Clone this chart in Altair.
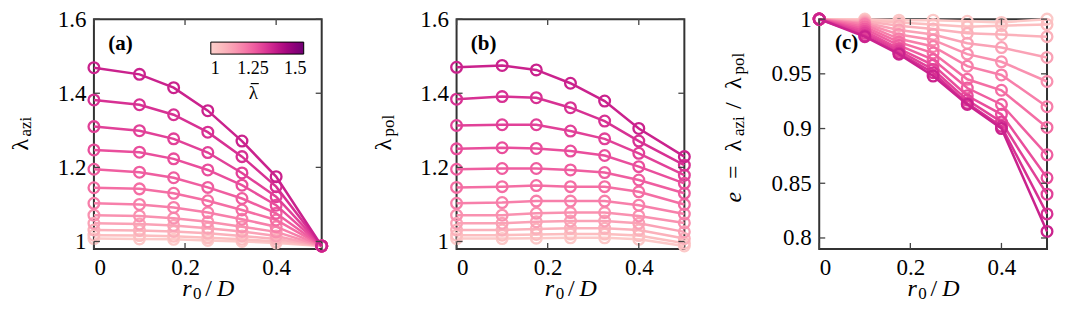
import altair as alt
import pandas as pd

# ---------------- data ----------------
x_vals = [0, 0.1, 0.175, 0.25, 0.325, 0.4, 0.5]

# colour value (lambda bar) of each series, lightest -> darkest
lam_bar = [1.02, 1.055, 1.09, 1.125, 1.16, 1.195, 1.225, 1.255, 1.285, 1.31, 1.34, 1.37]

lam_azi = [
    [1.008, 1.007, 1.006, 1.003, 1.000, 0.996, 0.988],
    [1.017, 1.016, 1.014, 1.010, 1.006, 1.000, 0.988],
    [1.031, 1.030, 1.027, 1.022, 1.015, 1.007, 0.988],
    [1.049, 1.047, 1.043, 1.036, 1.027, 1.015, 0.988],
    [1.071, 1.069, 1.063, 1.053, 1.040, 1.026, 0.988],
    [1.103, 1.100, 1.092, 1.078, 1.060, 1.040, 0.988],
    [1.145, 1.142, 1.130, 1.110, 1.085, 1.058, 0.988],
    [1.195, 1.187, 1.172, 1.146, 1.116, 1.076, 0.988],
    [1.247, 1.241, 1.223, 1.193, 1.152, 1.098, 0.988],
    [1.310, 1.299, 1.277, 1.240, 1.185, 1.121, 0.988],
    [1.382, 1.369, 1.342, 1.295, 1.229, 1.148, 0.988],
    [1.469, 1.451, 1.415, 1.353, 1.271, 1.175, 0.988],
]

lam_pol = [
    [1.008, 1.008, 1.009, 1.010, 1.010, 1.006, 0.988],
    [1.017, 1.017, 1.019, 1.020, 1.020, 1.016, 0.995],
    [1.031, 1.031, 1.034, 1.036, 1.036, 1.031, 1.008],
    [1.049, 1.049, 1.053, 1.055, 1.055, 1.049, 1.026],
    [1.071, 1.071, 1.076, 1.078, 1.078, 1.069, 1.050],
    [1.103, 1.105, 1.109, 1.109, 1.109, 1.098, 1.074],
    [1.146, 1.148, 1.151, 1.148, 1.148, 1.134, 1.100],
    [1.195, 1.197, 1.197, 1.193, 1.186, 1.166, 1.130],
    [1.250, 1.253, 1.251, 1.244, 1.232, 1.202, 1.157],
    [1.313, 1.315, 1.315, 1.298, 1.277, 1.238, 1.179],
    [1.384, 1.391, 1.388, 1.361, 1.325, 1.271, 1.206],
    [1.470, 1.475, 1.463, 1.427, 1.379, 1.305, 1.229],
]

e_ratio = [
    [1.000, 1.000, 0.999, 0.999, 0.998, 0.997, 1.000],
    [1.000, 0.999, 0.997, 0.995, 0.993, 0.994, 0.995],
    [1.000, 0.998, 0.994, 0.991, 0.987, 0.986, 0.984],
    [1.000, 0.997, 0.990, 0.986, 0.978, 0.974, 0.965],
    [1.000, 0.996, 0.986, 0.981, 0.968, 0.961, 0.943],
    [1.000, 0.995, 0.982, 0.975, 0.957, 0.949, 0.920],
    [1.000, 0.993, 0.979, 0.969, 0.945, 0.935, 0.901],
    [1.000, 0.991, 0.976, 0.963, 0.937, 0.922, 0.876],
    [1.000, 0.989, 0.973, 0.958, 0.930, 0.913, 0.855],
    [1.000, 0.987, 0.971, 0.954, 0.926, 0.906, 0.840],
    [1.000, 0.985, 0.969, 0.951, 0.923, 0.902, 0.822],
    [1.000, 0.984, 0.968, 0.948, 0.922, 0.900, 0.806],
]

y_ticks_ab = [1.0, 1.2, 1.4, 1.6]
y_ticks_c = [0.8, 0.85, 0.9, 0.95, 1.0]
x_ticks = [0, 0.2, 0.4]
cbar_ticks = [1, 1.25, 1.5]
cbar_domain = [1, 1.55]

# ---------------- styling ----------------
W, H = 228, 230
FONT = "Liberation Serif, Times New Roman, serif"
TICK = 6
MAIN, SUB = 24, 17
CX = W / 2


def long_table(series):
    rows = []
    for k, ys in enumerate(series):
        for x, y in zip(x_vals, ys):
            rows.append({"k": k, "lam": lam_bar[k], "x": x, "y": y})
    return pd.DataFrame(rows)


def text(t, x, y, size, angle=0, style="normal", weight="normal"):
    return alt.Chart(alt.Data(values=[{}])).mark_text(
        text=t, font=FONT, fontSize=size, fontStyle=style, fontWeight=weight,
        angle=angle, align="left", baseline="alphabetic", color="black"
    ).encode(x=alt.value(x), y=alt.value(y))


def panel(series, ydom, yticks, label, label_pos, ytitle, show_legend):
    df = long_table(series)
    xscale = alt.Scale(domain=[0, 0.5], nice=False, zero=False)
    yscale = alt.Scale(domain=ydom, nice=False, zero=False)
    xaxis = alt.Axis(values=x_ticks, format="~g", title=None, labelPadding=8)
    yaxis = alt.Axis(values=yticks, format="~g", title=None, labelPadding=8)

    def X(f):
        return alt.X(f, type="quantitative", scale=xscale, axis=xaxis)

    def Y(f):
        return alt.Y(f, type="quantitative", scale=yscale, axis=yaxis)

    if show_legend:
        legend = alt.Legend(
            orient="none", legendX=117, legendY=23, direction="horizontal",
            title=None,
            gradientLength=93, gradientThickness=12,
            gradientStrokeColor="black", gradientStrokeWidth=1,
            values=cbar_ticks, format=".3~g", labelAlign="center",
            labelFont=FONT, labelFontSize=18, labelColor="black", labelOffset=6,
            padding=0,
        )
    else:
        legend = None
    color = alt.Color("lam:Q", scale=alt.Scale(domain=cbar_domain, scheme="redpurple"),
                      legend=legend)

    layers = []
    for k in range(len(series)):
        sub = alt.Chart(df[df["k"] == k])
        layers.append(sub.mark_line(strokeWidth=2.5).encode(x=X("x"), y=Y("y"), color=color))
        layers.append(sub.mark_point(filled=False, size=115, strokeWidth=2.3, opacity=1)
                      .encode(x=X("x"), y=Y("y"), color=color))

    # inward mirrored ticks
    yt = alt.Chart(pd.DataFrame({"v": yticks}))
    xt = alt.Chart(pd.DataFrame({"v": x_ticks}))
    rule = dict(color="#444", strokeWidth=1.3)
    layers += [
        yt.mark_rule(**rule).encode(y=Y("v"), x=alt.value(0), x2=alt.value(TICK)),
        yt.mark_rule(**rule).encode(y=Y("v"), x=alt.value(W - TICK), x2=alt.value(W)),
        xt.mark_rule(**rule).encode(x=X("v"), y=alt.value(H), y2=alt.value(H - TICK)),
        xt.mark_rule(**rule).encode(x=X("v"), y=alt.value(0), y2=alt.value(TICK)),
    ]

    # colour-bar title: lambda with a bar over it
    if show_legend:
        layers += [
            text("λ", 155, 80, 19),
            alt.Chart(alt.Data(values=[{}])).mark_rule(color="black", strokeWidth=1.2)
            .encode(x=alt.value(157), x2=alt.value(165), y=alt.value(64.5)),
        ]

    # panel label
    layers.append(text(label, label_pos[0], label_pos[1], 21, weight="bold"))

    # x title  r_0 / D
    layers += [
        text("r", CX - 25.7, 277, MAIN, style="italic"),
        text("0", CX - 14.8, 280, SUB),
        text("/", CX - 2.5, 277, MAIN),
        text("D", CX + 9.1, 277, MAIN, style="italic"),
    ]

    # y title pieces (rotated, reading upwards)
    for t, pos, size, base, style in ytitle:
        layers.append(text(t, base, pos, size, angle=270, style=style))

    return alt.layer(*layers).properties(width=W, height=H)


ytitle_a = [("λ", 131.6, MAIN, -65.5, "normal"), ("azi", 117.5, SUB, -62.5, "normal")]
ytitle_b = [("λ", 131.6, MAIN, -65.5, "normal"), ("pol", 117.5, SUB, -62.5, "normal")]
ytitle_c = [
    ("e", 183.6, MAIN, -78, "italic"),
    ("=", 160, MAIN, -78, "normal"),
    ("λ", 132.4, MAIN, -78, "normal"),
    ("azi", 117, SUB, -75, "normal"),
    ("/", 90, MAIN, -78, "normal"),
    ("λ", 70, MAIN, -78, "normal"),
    ("pol", 55.5, SUB, -75, "normal"),
]

pa = panel(lam_azi, [0.98, 1.6], y_ticks_ab, "(a)", (14.3, 31), ytitle_a, True)
pb = panel(lam_pol, [0.98, 1.6], y_ticks_ab, "(b)", (14.3, 31), ytitle_b, False)
pc = panel(e_ratio, [0.79, 1.0], y_ticks_c, "(c)", (15.7, 29.5), ytitle_c, False)

chart = (
    alt.hconcat(pa, pb, pc, spacing=135, bounds="flush")
    .resolve_scale(color="independent")
    .properties(padding={"left": 0, "top": -1, "right": 0, "bottom": 0})
    .configure_view(stroke="#333", strokeWidth=2)
    .configure_axis(
        labelFont=FONT, labelFontSize=23, labelColor="black",
        ticks=False, tickSize=0, domain=False, grid=False,
    )
)

chart.save("out.html", embed_options={"renderer": "svg", "actions": False})
